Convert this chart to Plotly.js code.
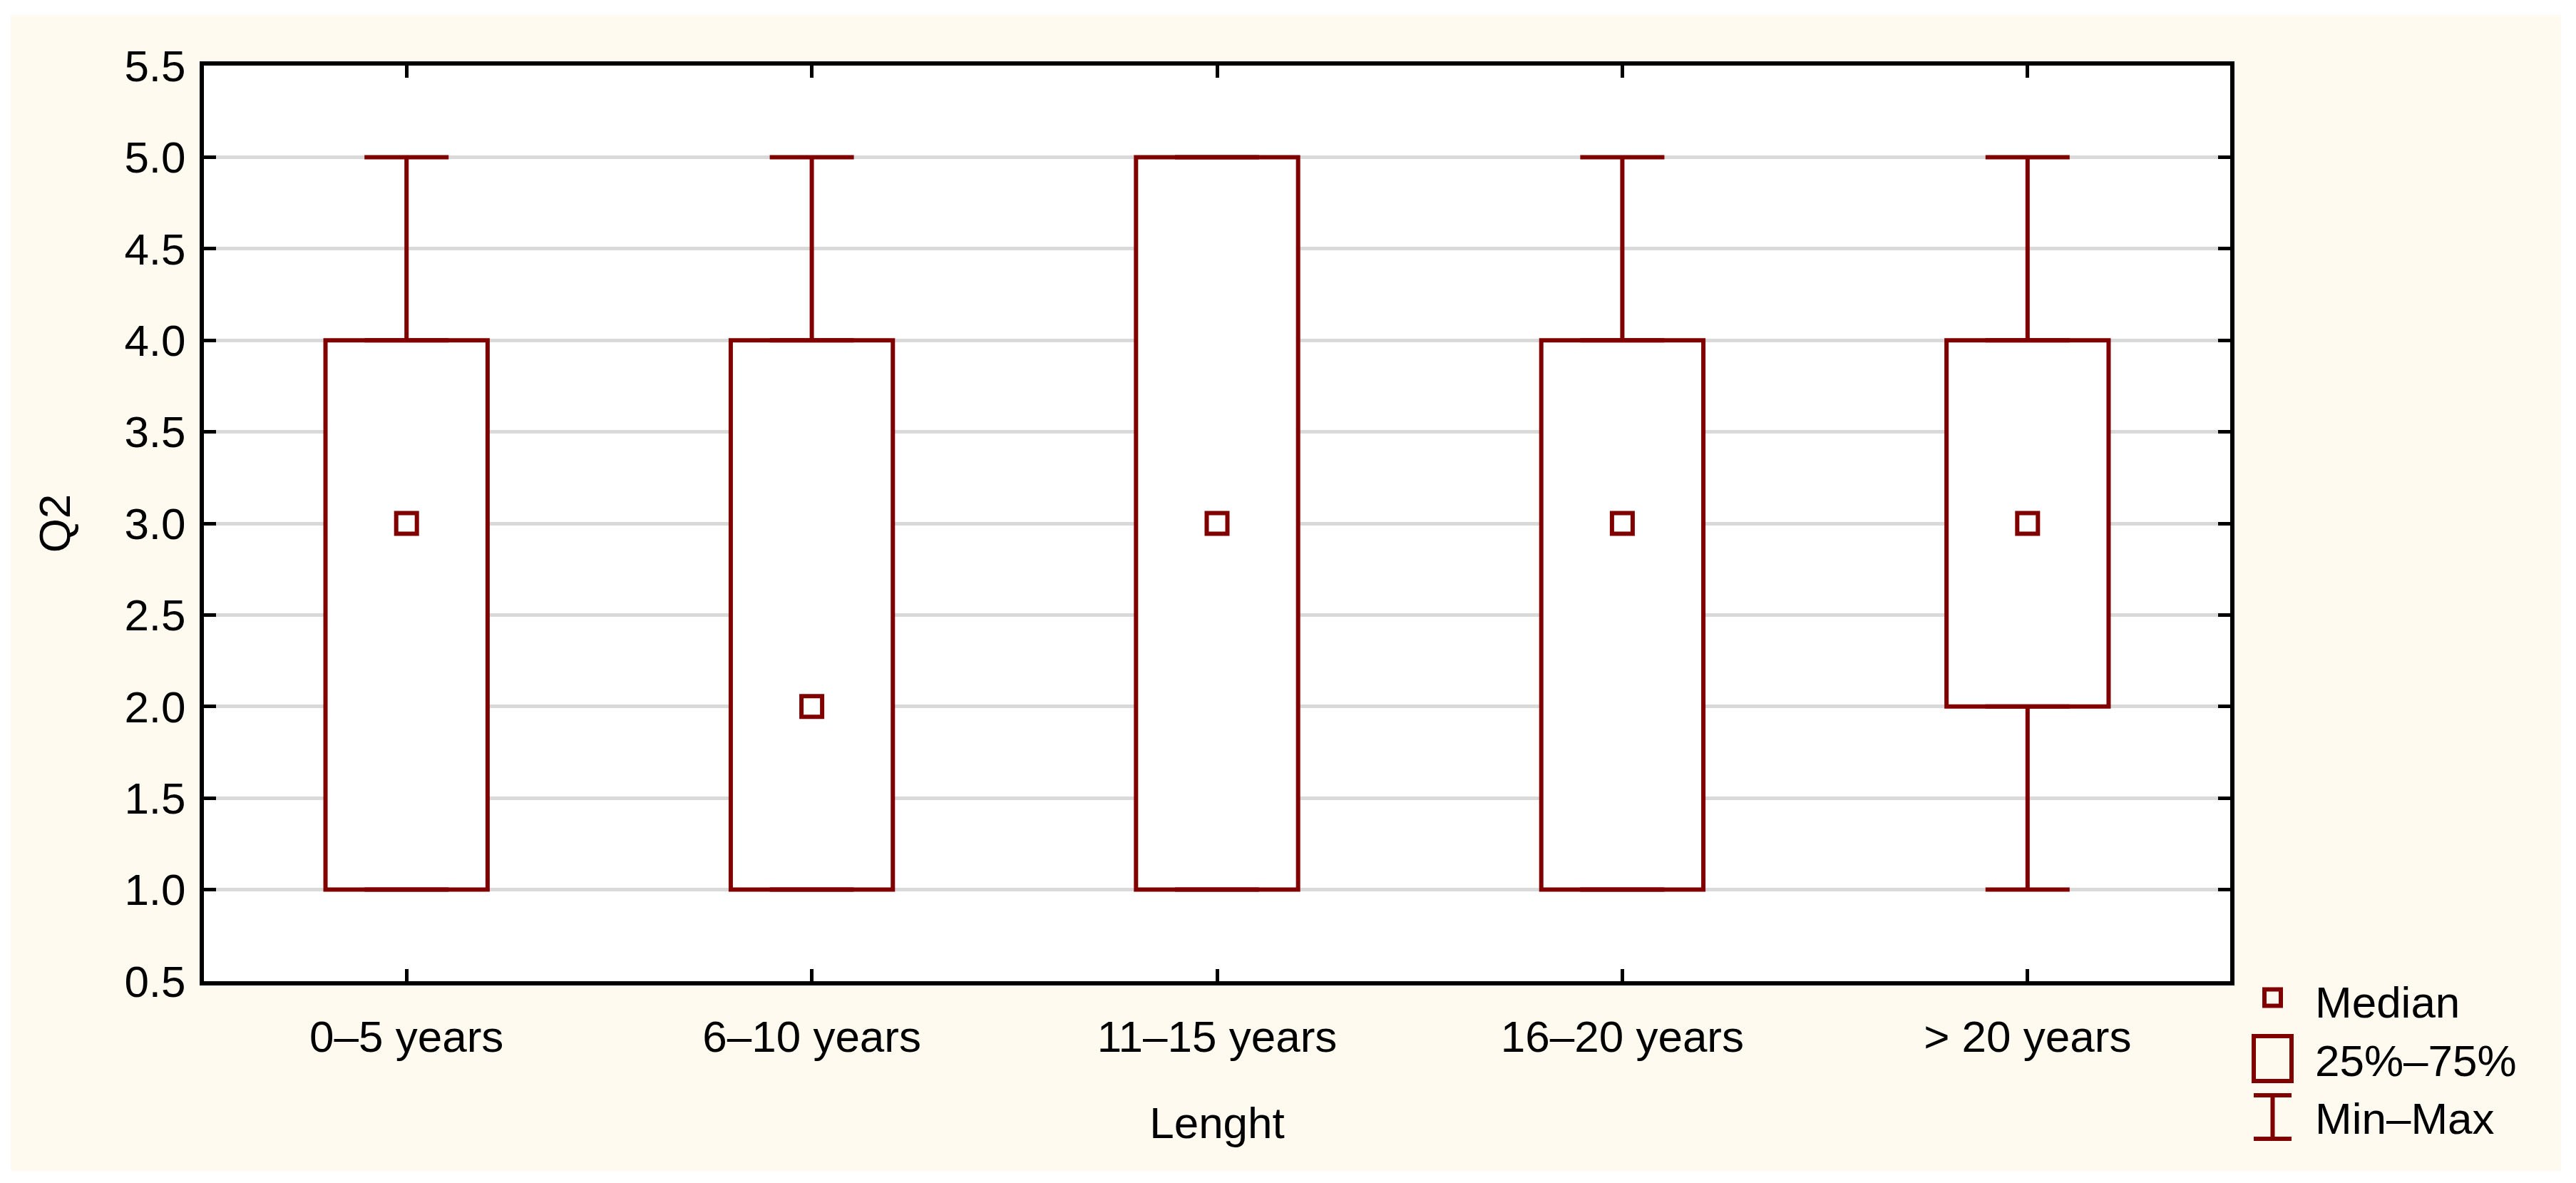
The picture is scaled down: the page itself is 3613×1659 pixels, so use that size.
<!DOCTYPE html>
<html><head><meta charset="utf-8">
<script src="https://cdn.plot.ly/plotly-3.0.1.min.js"></script>
<style>
html,body{margin:0;padding:0;background:#ffffff;width:3613px;height:1659px;overflow:hidden}
#chart{position:absolute;left:15px;top:21px;width:3577px;height:1621px}
</style>
</head><body><div id="chart"></div>
<script>
// ---- data ----
const categories = ['0–5 years', '6–10 years', '11–15 years', '16–20 years', '> 20 years'];
const minVals    = [1, 1, 1, 1, 1];
const q1Vals     = [1, 1, 1, 1, 2];
const medianVals = [3, 2, 3, 3, 3];
const q3Vals     = [4, 4, 5, 4, 4];
const maxVals    = [5, 5, 5, 5, 5];
const yTickVals  = [0.5, 1.0, 1.5, 2.0, 2.5, 3.0, 3.5, 4.0, 4.5, 5.0, 5.5];
const legendLabels = ['Median', '25%–75%', 'Min–Max'];
const xTitle = 'Lenght';
const yTitle = 'Q2';

// ---- styling ----
const RED = '#800000';
const FONT = 'Arial, "Liberation Sans", sans-serif';
const FS = 62;
const W = 3577, H = 1621;
const M = {l: 271, r: 464, t: 71, b: 266};
const PW = W - M.l - M.r, PH = H - M.t - M.b;
const px = x => (x - M.l) / PW;          // div px -> paper x
const py = y => 1 - (y - M.t) / PH;      // div px -> paper y

const zeros = categories.map(() => 0);

const traces = [
  // upper whiskers (q3 -> max)
  {
    type: 'scatter', mode: 'markers', x: categories, y: q3Vals,
    marker: {opacity: 0, size: 1}, showlegend: false, hoverinfo: 'skip',
    error_y: {type: 'data', symmetric: false,
      array: maxVals.map((v, i) => v - q3Vals[i]), arrayminus: zeros,
      color: RED, thickness: 6, width: 59}
  },
  // lower whiskers (q1 -> min)
  {
    type: 'scatter', mode: 'markers', x: categories, y: q1Vals,
    marker: {opacity: 0, size: 1}, showlegend: false, hoverinfo: 'skip',
    error_y: {type: 'data', symmetric: false,
      array: zeros, arrayminus: q1Vals.map((v, i) => v - minVals[i]),
      color: RED, thickness: 6, width: 59}
  },
  // 25%-75% boxes
  {
    type: 'bar', x: categories, base: q1Vals,
    y: q3Vals.map((v, i) => v - q1Vals[i]),
    width: 0.4, showlegend: false,
    marker: {color: '#ffffff', line: {color: RED, width: 6}}
  },
  // medians
  {
    type: 'scatter', mode: 'markers', x: categories, y: medianVals,
    showlegend: false,
    marker: {symbol: 'square-open', size: 29, color: RED, line: {color: RED, width: 6}}
  }
];

// custom legend (decoration) in div pixel positions
const shapes = [
  {type: 'rect', xref: 'paper', yref: 'paper',
   x0: px(3161), x1: px(3184), y0: py(1366.5), y1: py(1389.5),
   line: {color: RED, width: 6}, fillcolor: 'rgba(0,0,0,0)'},
  {type: 'rect', xref: 'paper', yref: 'paper',
   x0: px(3146), x1: px(3199), y0: py(1432), y1: py(1495),
   line: {color: RED, width: 6}, fillcolor: 'rgba(0,0,0,0)'},
  {type: 'line', xref: 'paper', yref: 'paper',
   x0: px(3146), x1: px(3199), y0: py(1515), y1: py(1515), line: {color: RED, width: 6}},
  {type: 'line', xref: 'paper', yref: 'paper',
   x0: px(3146), x1: px(3199), y0: py(1576), y1: py(1576), line: {color: RED, width: 6}},
  {type: 'line', xref: 'paper', yref: 'paper',
   x0: px(3172.5), x1: px(3172.5), y0: py(1515), y1: py(1576), line: {color: RED, width: 6}}
];
const legendY = [1384, 1466, 1547];
const annotations = legendLabels.map((t, i) => ({
  text: t, xref: 'paper', yref: 'paper', x: px(3230), y: py(legendY[i]),
  xanchor: 'left', yanchor: 'middle', showarrow: false,
  font: {family: FONT, size: FS, color: '#000'}
}));

const axisCommon = {
  showline: true, linecolor: '#000', linewidth: 6, mirror: 'ticks',
  ticks: 'inside', ticklen: 17, tickwidth: 5, tickcolor: '#000',
  tickfont: {family: FONT, size: FS, color: '#000'},
  zeroline: false, fixedrange: true
};

const layout = {
  width: W, height: H,
  margin: M,
  paper_bgcolor: '#FFFAF0', plot_bgcolor: '#ffffff',
  font: {family: FONT, size: FS, color: '#000'},
  showlegend: false,
  bargap: 0,
  xaxis: Object.assign({}, axisCommon, {
    type: 'category', categoryarray: categories, categoryorder: 'array',
    range: [-0.5, 4.5], showgrid: false, ticklabelstandoff: 19,
    title: {text: xTitle, font: {family: FONT, size: FS, color: '#000'}, standoff: 67}
  }),
  yaxis: Object.assign({}, axisCommon, {
    range: [0.5, 5.5], tickvals: yTickVals, tickformat: '.1f',
    showgrid: true, gridcolor: '#D9D9D9', gridwidth: 5, ticklabelstandoff: 7,
    title: {text: yTitle, font: {family: FONT, size: FS, color: '#000'}, standoff: 58}
  }),
  shapes: shapes,
  annotations: annotations
};

Plotly.newPlot('chart', traces, layout, {displayModeBar: false, staticPlot: true});
</script>
</body></html>
